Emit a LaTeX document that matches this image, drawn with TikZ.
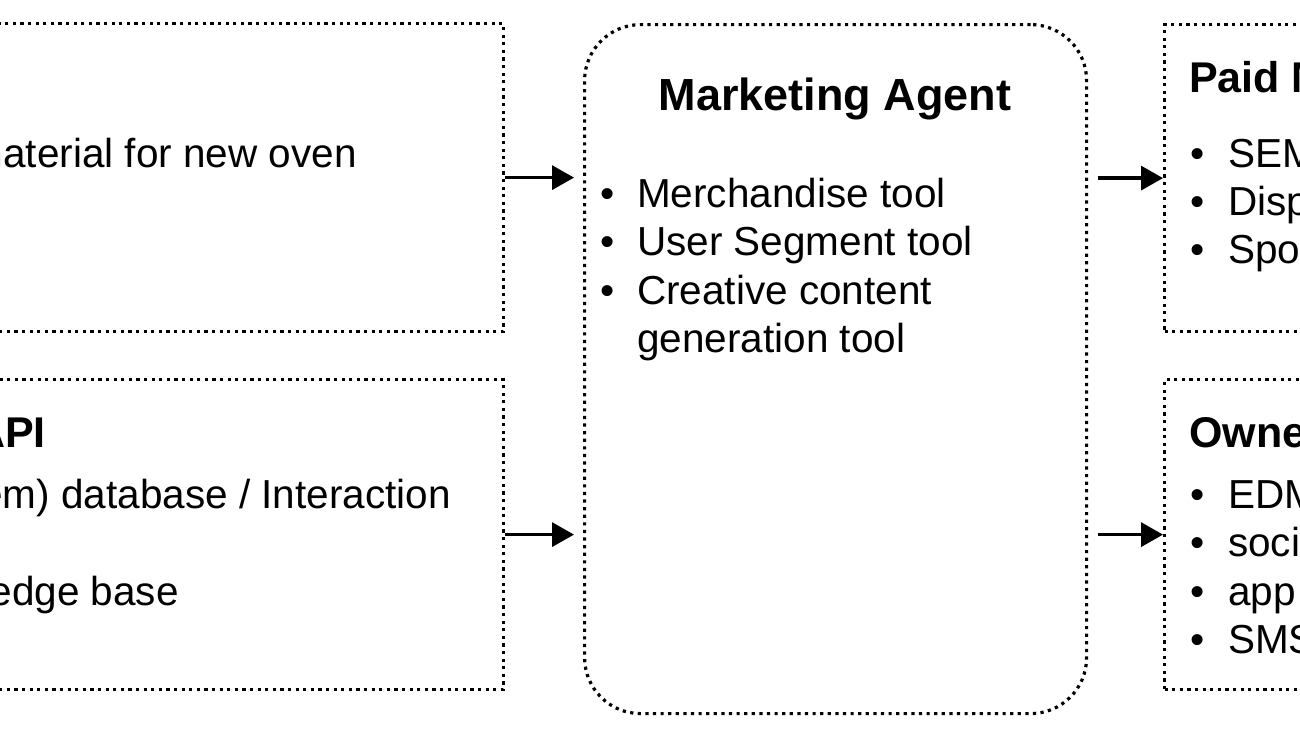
\documentclass[tikz,border=0pt]{standalone}
\usepackage{fontspec}
\setmainfont{Liberation Sans}
\usetikzlibrary{arrows.meta}
\begin{document}
\begin{tikzpicture}[x=1pt,y=-1pt,
  dotbox/.style={draw=black, line width=3.2pt, dash pattern=on 3.2pt off 4.4pt, inner sep=0pt, rectangle},
  agentbox/.style={dotbox, rounded corners=56pt},
  txt/.style={inner sep=0pt, font=\fontsize{40.5}{48.5}\selectfont},
  ttl/.style={inner sep=0pt, font=\fontsize{43}{52}\selectfont\bfseries},
  arr/.style={line width=3.4pt, -{Triangle[length=22pt,width=24pt]}}
]
\useasboundingbox (0,0) rectangle (1300,731);
\fill[white] (0,0) rectangle (1300,731);

% boxes
\node[dotbox, minimum width=565pt, minimum height=308pt, anchor=north east] (in1) at (505,22) {};
\node[dotbox, minimum width=565pt, minimum height=310pt, anchor=north east] (in2) at (505,378) {};
\node[agentbox, minimum width=502pt, minimum height=689pt, anchor=north west] (agent) at (583,23) {};
\node[dotbox, minimum width=220pt, minimum height=307pt, anchor=north west] (out1) at (1163,23) {};
\node[dotbox, minimum width=220pt, minimum height=310pt, anchor=north west] (out2) at (1163,378) {};

% top-left text
\node[txt, anchor=base east] (t1a) at (357,167) {material for new oven};

% bottom-left text
\node[ttl, anchor=base east] (t2t) at (46,447) {API};
\node[txt, anchor=base east] (t2a) at (451,508) {em) database / Interaction};
\node[txt, anchor=base east] (t2b) at (179,605) {edge base};

% agent text
\node[inner sep=0pt, font=\fontsize{45}{54}\selectfont\bfseries, anchor=base] (at) at (835,110) {Marketing Agent};
\node[txt, anchor=base west] (ab1) at (600,207) {•};
\node[txt, anchor=base west] (aa1) at (637,207) {Merchandise tool};
\node[txt, anchor=base west] (ab2) at (600,255) {•};
\node[txt, anchor=base west] (aa2) at (637,255) {User Segment tool};
\node[txt, anchor=base west] (ab3) at (600,304) {•};
\node[txt, anchor=base west] (aa3) at (637,304) {Creative content};
\node[txt, anchor=base west] (aa4) at (637,352) {generation tool};

% top-right text
\node[ttl, anchor=base west] (o1t) at (1189,92) {Paid M};
\node[txt, anchor=base west] (o1b1) at (1190,167) {•};
\node[txt, anchor=base west] (o1a1) at (1228,167) {SEM};
\node[txt, anchor=base west] (o1b2) at (1190,215) {•};
\node[txt, anchor=base west] (o1a2) at (1228,215) {Disp};
\node[txt, anchor=base west] (o1b3) at (1190,263) {•};
\node[txt, anchor=base west] (o1a3) at (1228,263) {Spo};

% bottom-right text
\node[ttl, anchor=base west] (o2t) at (1189,447) {Owne};
\node[txt, anchor=base west] (o2b1) at (1190,508) {•};
\node[txt, anchor=base west] (o2a1) at (1228,508) {EDM};
\node[txt, anchor=base west] (o2b2) at (1190,556) {•};
\node[txt, anchor=base west] (o2a2) at (1228,556) {soci};
\node[txt, anchor=base west] (o2b3) at (1190,605) {•};
\node[txt, anchor=base west] (o2a3) at (1228,605) {app};
\node[txt, anchor=base west] (o2b4) at (1190,653) {•};
\node[txt, anchor=base west] (o2a4) at (1228,653) {SMS};

% connectors
\draw[arr, shorten >=9pt] (in1.east) -- (in1.east -| agent.west);
\draw[arr, shorten >=9pt] (in2.east) -- (in2.east -| agent.west);
\draw[arr, shorten <=10pt] (out1.west -| agent.east) -- (out1.west);
\draw[arr, shorten <=10pt] (out2.west -| agent.east) -- (out2.west);
\end{tikzpicture}
\end{document}
